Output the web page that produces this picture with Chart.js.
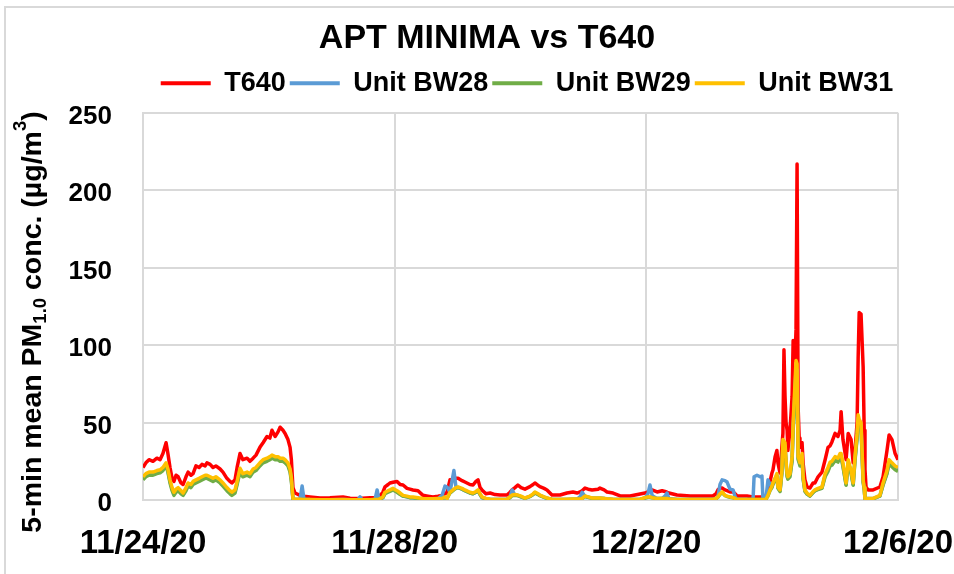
<!DOCTYPE html>
<html>
<head>
<meta charset="utf-8">
<script src="https://cdn.jsdelivr.net/npm/chart.js@4.4.1/dist/chart.umd.min.js"></script>
<style>
  html, body { margin: 0; padding: 0; background: #fff; }
  canvas { display: block; }
</style>
</head>
<body>
<canvas id="chart" width="954" height="574"></canvas>
<script>
// hours since 11/24/20 00:00
const hours = [
  0, 1.1, 2.3, 3.8, 5.3, 6.5, 7.6, 8.8, 9.5, 10.3, 11.1, 11.8, 12.6, 13.4, 14.5, 15.3, 16.4, 17.2, 18.3, 19.1,
  20.2, 21.4, 22.5, 23.7, 24.4, 25.6, 26.7, 27.8, 29.4, 30.5, 32.0, 33.2, 33.9, 35.1, 35.9, 37.0, 38.1, 39.7, 40.8, 42.0,
  43.1, 44.6, 45.8, 47.3, 48.4, 49.2, 50.4, 51.5, 52.3, 53.4, 54.2, 55.3, 56.1, 56.6, 57.2, 58.0, 59.9, 60.7, 61.4, 63.7,
  67.5, 71.3, 76.3, 79.0, 82.0, 82.8, 83.6, 86.6, 88.5, 89.3, 90.0, 91.5, 92.3, 93.5, 94.2, 95.4, 96.9, 98.1, 99.2, 100.7,
  101.8, 103.0, 104.9, 106.8, 108.7, 110.6, 112.5, 114.1, 115.2, 116.0, 117.1, 118.6, 119.4, 120.2, 121.7, 122.8, 124.7, 125.9, 127.0, 127.8,
  128.6, 129.3, 130.8, 132.4, 134.3, 136.2, 138.9, 140.0, 140.8, 141.9, 143.0, 144.2, 145.7, 147.6, 148.8, 149.5, 150.7, 151.4, 153.0, 154.1,
  156.0, 157.5, 159.1, 161.7, 164.0, 165.6, 166.7, 167.5, 168.6, 169.8, 171.3, 173.6, 174.3, 175.9, 177.0, 179.3, 182.0, 185.8, 189.6, 191.5,
  192.6, 193.4, 194.2, 196.1, 198.0, 199.1, 199.9, 200.6, 203.7, 208.7, 213.6, 217.4, 218.6, 219.3, 220.1, 220.9, 222.0, 222.8, 223.9, 225.1,
  225.9, 226.6, 230.4, 232.7, 233.1, 234.2, 235.4, 236.1, 236.5, 237.6, 238.4, 239.2, 239.9, 240.3, 241.1, 241.8, 242.2, 243.0, 243.7, 244.1,
  244.5, 244.9, 245.3, 245.7, 246.0, 246.8, 247.6, 248.0, 248.7, 249.1, 249.5, 249.9, 250.3, 250.6, 251.4, 251.8, 252.5, 253.3, 254.4, 255.6,
  256.3, 257.5, 259.0, 260.2, 261.3, 262.1, 262.8, 264.0, 265.1, 265.9, 266.3, 267.0, 268.2, 269.0, 270.1, 270.9, 271.6, 272.4, 272.8, 273.2,
  273.9, 274.7, 275.1, 275.4, 275.8, 276.6, 278.5, 281.1, 282.3, 283.8, 284.6, 285.7, 286.9, 288.0
];

const t640 = [
  21, 24, 26, 25, 27, 26, 30, 37, 30, 21, 14, 12, 16, 15, 11, 10, 15, 18, 16, 17,
  22, 21, 23, 22, 24, 23, 21, 22, 20, 18, 14, 12, 11, 13, 21, 30, 26, 27, 25, 27,
  29, 34, 37, 41, 40, 45, 41, 44, 47, 45, 43, 39, 34, 26, 8, 4.5, 3, 3, 2.5, 2,
  1.3, 1.5, 2, 1.2, 1, 1, 1.2, 1.5, 1.5, 1.5, 2, 5, 8.5, 10, 11, 11.5, 12, 10, 9.7, 7.5,
  7, 6.5, 6, 3, 2.5, 2, 2.5, 3, 4, 5, 13, 13, 14, 14, 12.5, 11.6, 10, 9.7, 12, 13,
  8, 6.5, 4, 4.5, 3.5, 3.2, 3.2, 5, 6.5, 8, 9.7, 8, 7, 8.6, 10, 11, 9.5, 8.6, 7.5, 6.5,
  3.2, 3.2, 3.2, 4.5, 5.2, 4.5, 5.2, 6, 7.7, 7, 6.5, 7, 7.7, 6.5, 5.2, 4.5, 2.6, 2.6, 3.9, 4.5,
  5.2, 6, 6.5, 5.2, 6, 5.5, 5, 4.5, 3.2, 2.6, 2.6, 2.6, 4, 6.5, 7.7, 7.7, 6.5, 6, 5.2, 5.2,
  4, 2.6, 2.6, 2, 2, 2, 2, 2, 2, 2.5, 6.5, 12, 17.4, 19.4, 27.8, 32, 24, 17.4, 34, 43,
  97, 67, 50, 45, 32, 45, 67, 103, 90, 110, 217, 60, 40, 34, 37, 24, 13, 8.4, 7.7, 11,
  11, 15, 18, 26, 34, 35, 37.5, 43, 41, 45, 57, 39, 26, 43, 39, 24, 32, 50, 92, 121,
  120, 86, 45, 20, 8.4, 6.5, 6.5, 8.4, 15, 32, 42, 39, 30, 26
];

const bw28 = [
  14, 16, 17, 17, 18, 18.5, 20, 23, 19, 12, 7, 4, 6, 7, 5, 3.5, 7, 10, 9, 11,
  12, 13, 14, 15, 15, 14, 13, 14, 12, 10, 7, 5, 4, 5.5, 11, 19.5, 16, 17, 16, 19,
  20, 23, 25, 26, 27, 28, 27, 27, 26, 26, 25, 23, 19, 13, 1, 0.3, 0.5, 9, 0.5, 0.3,
  0.2, 0.2, 0.3, 0.2, 0.2, 2, 0.2, 0.2, 0.3, 6.5, 0.5, 1.5, 4.5, 5.5, 6, 7, 5.5, 4, 2.5, 2,
  1.5, 1.5, 1, 0.8, 0.6, 0.6, 0.8, 3, 9, 8.4, 5, 19, 8, 8, 7, 6, 4.5, 4, 5, 6,
  3.5, 1.5, 0.8, 0.4, 0.3, 0.3, 0.4, 2, 6.5, 3, 3, 2, 1.2, 2.3, 3.5, 4.8, 3.6, 3, 1.8, 1.2,
  0.4, 0.3, 0.3, 0.4, 0.5, 0.5, 2, 5, 2.4, 1.8, 1.2, 1.2, 1.2, 0.9, 0.7, 0.4, 0.3, 0.3, 0.4, 1.3,
  4, 9.7, 3, 0.9, 0.9, 2.5, 4.5, 1, 0.3, 0.3, 0.3, 0.3, 0.9, 1.8, 10, 13, 12.5, 11.6, 7, 6.5,
  2, 0.3, 0.3, 0.3, 15, 16, 15, 15.5, 0.5, 0.5, 13, 10, 8.5, 10.5, 13.5, 16, 8, 6, 18, 37,
  36, 35, 24, 16, 14, 16, 26, 47, 70, 85, 84, 27, 25, 23, 28, 14, 6, 4, 2.6, 5,
  6, 7, 8, 16, 19.5, 23, 23.5, 26.5, 25.5, 28.5, 28.5, 22.5, 10, 24.5, 18, 10, 26.5, 41, 53, 50,
  48, 12, 7.5, 1, 0.9, 0.9, 0.9, 2.6, 10, 17.5, 24.5, 22.5, 20.5, 19.5
];

const bw29 = [
  13, 15, 16, 16, 17, 17.5, 19, 22, 18, 11, 6, 3, 5, 6, 4, 3, 6, 9, 8, 10,
  11, 12, 13, 14, 14, 13, 12, 13, 11, 9, 6, 4, 3, 4.5, 10, 18, 15, 16, 15, 18,
  19, 22, 24, 25, 26, 27, 26, 26, 25, 25, 24, 22, 18, 12, 0.5, 0.3, 0.3, 0.3, 0.3, 0.2,
  0.2, 0.2, 0.2, 0.2, 0.2, 0.2, 0.2, 0.2, 0.3, 0.3, 0.4, 1.5, 4, 5, 5.5, 6.5, 5, 3.5, 2.5, 2,
  1.5, 1.5, 1, 0.7, 0.6, 0.6, 0.8, 0.8, 1.5, 1, 4.5, 6.5, 7.5, 8, 7, 6, 4.5, 4, 5, 6,
  3.5, 1.5, 0.8, 0.4, 0.3, 0.3, 0.4, 1.5, 2.8, 3, 2.8, 2, 1.1, 2.2, 3.5, 4.6, 3.5, 2.8, 1.7, 1.1,
  0.4, 0.3, 0.3, 0.4, 0.5, 0.5, 0.5, 0.9, 2.3, 1.8, 1.1, 1.1, 1.1, 0.9, 0.7, 0.4, 0.3, 0.3, 0.4, 1.3,
  1.8, 1.8, 1.4, 0.9, 0.9, 0.9, 0.9, 0.5, 0.3, 0.3, 0.3, 0.3, 0.9, 1.8, 3.6, 4.8, 2.8, 2.3, 1.8, 1.4,
  0.9, 0.3, 0.3, 0.3, 0.3, 0.3, 0.3, 0.3, 0.3, 0.4, 2.6, 6, 8, 10, 13, 15.5, 7.5, 5.5, 17, 36,
  35, 34, 23, 15, 13.5, 15, 25, 45, 68, 82, 80, 26, 24, 22, 27, 13.5, 5.5, 3.8, 2.5, 4.8,
  5.8, 6.8, 7.5, 15, 18.5, 22, 22.5, 25.5, 24.5, 27.5, 27.5, 21.5, 9.5, 23.5, 17, 9.5, 25.5, 40, 51, 48,
  46, 11.5, 7, 0.8, 0.8, 0.8, 0.8, 2.5, 9.5, 17, 23.5, 21.5, 19.5, 18.5
];

const bw31 = [
  15, 17, 18, 18, 19, 19.5, 21, 24, 20, 13, 8, 5, 7, 8, 6, 4.5, 8, 11, 10, 12,
  13, 14, 15, 16, 16, 15, 14, 15, 13, 11, 8, 6, 5, 6.5, 12, 20.5, 17, 18, 17, 20,
  21, 24, 26, 27, 28, 29, 28, 28, 27, 27, 26, 24, 20, 14, 1, 0.5, 0.5, 0.3, 0.3, 0.3,
  0.2, 0.2, 0.3, 0.2, 0.2, 0.2, 0.2, 0.2, 0.3, 0.3, 0.5, 2, 5, 6, 6.5, 7.5, 6, 4.5, 3, 2.5,
  2, 2, 1.5, 1, 0.8, 0.8, 1, 1, 2, 1, 5, 7, 8, 8.4, 7.5, 6.5, 5, 4.5, 5.5, 6.5,
  4, 2, 1, 0.5, 0.3, 0.3, 0.5, 2, 3.2, 3.5, 3.2, 2.5, 1.3, 2.5, 4, 5.2, 4, 3.2, 2, 1.3,
  0.5, 0.3, 0.3, 0.5, 0.6, 0.6, 0.6, 1, 2.6, 2, 1.3, 1.3, 1.3, 1, 0.8, 0.5, 0.3, 0.3, 0.5, 1.5,
  2, 2, 1.5, 1, 1, 1, 1, 0.6, 0.3, 0.3, 0.3, 0.3, 1, 2, 4, 5.2, 3, 2.5, 2, 1.5,
  1, 0.3, 0.3, 0.3, 0.3, 0.3, 0.3, 0.3, 0.3, 0.5, 3, 6.5, 9, 11, 14, 17, 8.4, 6.5, 19, 39,
  38, 37, 25, 17, 15, 17, 28, 50, 75, 90, 88, 28, 26, 24, 30, 15, 6.5, 4.5, 3, 5.5,
  6.5, 7.5, 8.4, 17, 21, 24.5, 25, 28, 27, 30, 30, 24, 11, 26, 19, 11, 28, 43, 55, 52,
  50, 13, 8, 1, 1, 1, 1, 3, 11, 19, 26, 24, 22, 21
];

const seriesNames = ['T640', 'Unit BW28', 'Unit BW29', 'Unit BW31'];
const seriesColors = ['#ff0000', '#5b9bd5', '#70ad47', '#ffc000'];
const xTickLabels = ['11/24/20', '11/28/20', '12/2/20', '12/6/20'];
const yTicks = [0, 50, 100, 150, 200, 250];

const font = "'Liberation Sans', Arial, sans-serif";

function toPoints(values) {
  return hours.map((h, i) => ({ x: h, y: values[i] }));
}

// frame round the chart, like the Excel chart area border
const framePlugin = {
  id: 'frame',
  beforeDraw(chart) {
    const ctx = chart.ctx;
    ctx.save();
    ctx.fillStyle = '#fff';
    ctx.fillRect(0, 0, chart.width, chart.height);
    ctx.strokeStyle = '#d9d9d9';
    ctx.lineWidth = 2;
    ctx.strokeRect(5, 7, chart.width + 20, chart.height + 20);
    ctx.restore();
  }
};

// legend sits a bit right of the title in the original
const legendShift = {
  id: 'legendShift',
  afterLayout(chart) {
    chart.legend.left += 80;
  }
};

// y axis title with sub/superscript
const yTitlePlugin = {
  id: 'yTitle',
  afterDraw(chart) {
    const ctx = chart.ctx;
    const size = 28.5;
    const parts = [
      { t: '5-min mean PM', k: 1, dy: 0 },
      { t: '1.0', k: 0.65, dy: 8 },
      { t: ' conc. (\u00b5g/m', k: 1, dy: 0 },
      { t: '3', k: 0.65, dy: -12 },
      { t: ')', k: 1, dy: 0 }
    ];
    ctx.save();
    let total = 0;
    parts.forEach(p => {
      ctx.font = 'bold ' + (size * p.k).toFixed(1) + 'px ' + font;
      p.w = ctx.measureText(p.t).width;
      total += p.w;
    });
    ctx.translate(33, 322);
    ctx.rotate(-Math.PI / 2);
    ctx.fillStyle = '#000';
    ctx.textBaseline = 'middle';
    let x = -total / 2;
    parts.forEach(p => {
      ctx.font = 'bold ' + (size * p.k).toFixed(1) + 'px ' + font;
      ctx.fillText(p.t, x, p.dy);
      x += p.w;
    });
    ctx.restore();
  }
};

const datasets = [t640, bw28, bw29, bw31].map((vals, i) => ({
  label: seriesNames[i],
  data: toPoints(vals),
  borderColor: seriesColors[i],
  backgroundColor: seriesColors[i],
  borderWidth: 3.5,
  pointRadius: 0,
  tension: 0,
  borderJoinStyle: 'round',
  order: 4 - i
}));

new Chart(document.getElementById('chart'), {
  type: 'line',
  data: { datasets: datasets },
  options: {
    responsive: false,
    animation: false,
    devicePixelRatio: 1,
    layout: { padding: { left: 20, right: 0, top: 12, bottom: 0 } },
    plugins: {
      title: {
        display: true,
        text: 'APT MINIMA vs T640',
        color: '#000',
        font: { family: font, size: 34, weight: 'bold', lineHeight: 1.2 },
        padding: { top: 6, bottom: 7 }
      },
      subtitle: {
        // empty spacer between legend and plot area
        display: true,
        text: ' ',
        weight: 500,
        font: { size: 6, lineHeight: 1 },
        padding: 0
      },
      legend: {
        display: true,
        labels: {
          color: '#000',
          font: { family: font, size: 27, weight: 'bold' },
          boxWidth: 50,
          boxHeight: 4,
          padding: 4,
          sort: (a, b) => a.datasetIndex - b.datasetIndex,
          generateLabels(chart) {
            const items = Chart.defaults.plugins.legend.labels.generateLabels(chart);
            items.forEach(it => { it.fillStyle = it.strokeStyle; it.lineWidth = 0; });
            return items;
          }
        }
      },
      tooltip: { enabled: false }
    },
    scales: {
      x: {
        type: 'linear',
        min: 0,
        max: 288,
        afterFit(scale) {
          scale.height = 74;
          scale.paddingRight = 56;
        },
        afterBuildTicks(scale) {
          scale.ticks = xTickLabels.map((l, i) => ({ value: i * 96 }));
        },
        ticks: {
          color: '#000',
          padding: 24,
          maxRotation: 0,
          font: { family: font, size: 33, weight: 'bold' },
          callback: (v) => xTickLabels[Math.round(v / 96)]
        },
        grid: { color: '#d9d9d9', lineWidth: 2, drawTicks: false },
        border: { color: '#d9d9d9', width: 2 }
      },
      y: {
        min: 0,
        max: 250,
        afterFit(scale) { scale.width = 123; },
        afterBuildTicks(scale) {
          scale.ticks = yTicks.map(v => ({ value: v }));
        },
        ticks: {
          color: '#000',
          padding: 31,
          labelOffset: 4,
          font: { family: font, size: 26, weight: 'bold' }
        },
        grid: { color: '#d9d9d9', lineWidth: 2, drawTicks: false },
        border: { color: '#d9d9d9', width: 2 }
      }
    }
  },
  plugins: [framePlugin, legendShift, yTitlePlugin]
});
</script>
</body>
</html>
